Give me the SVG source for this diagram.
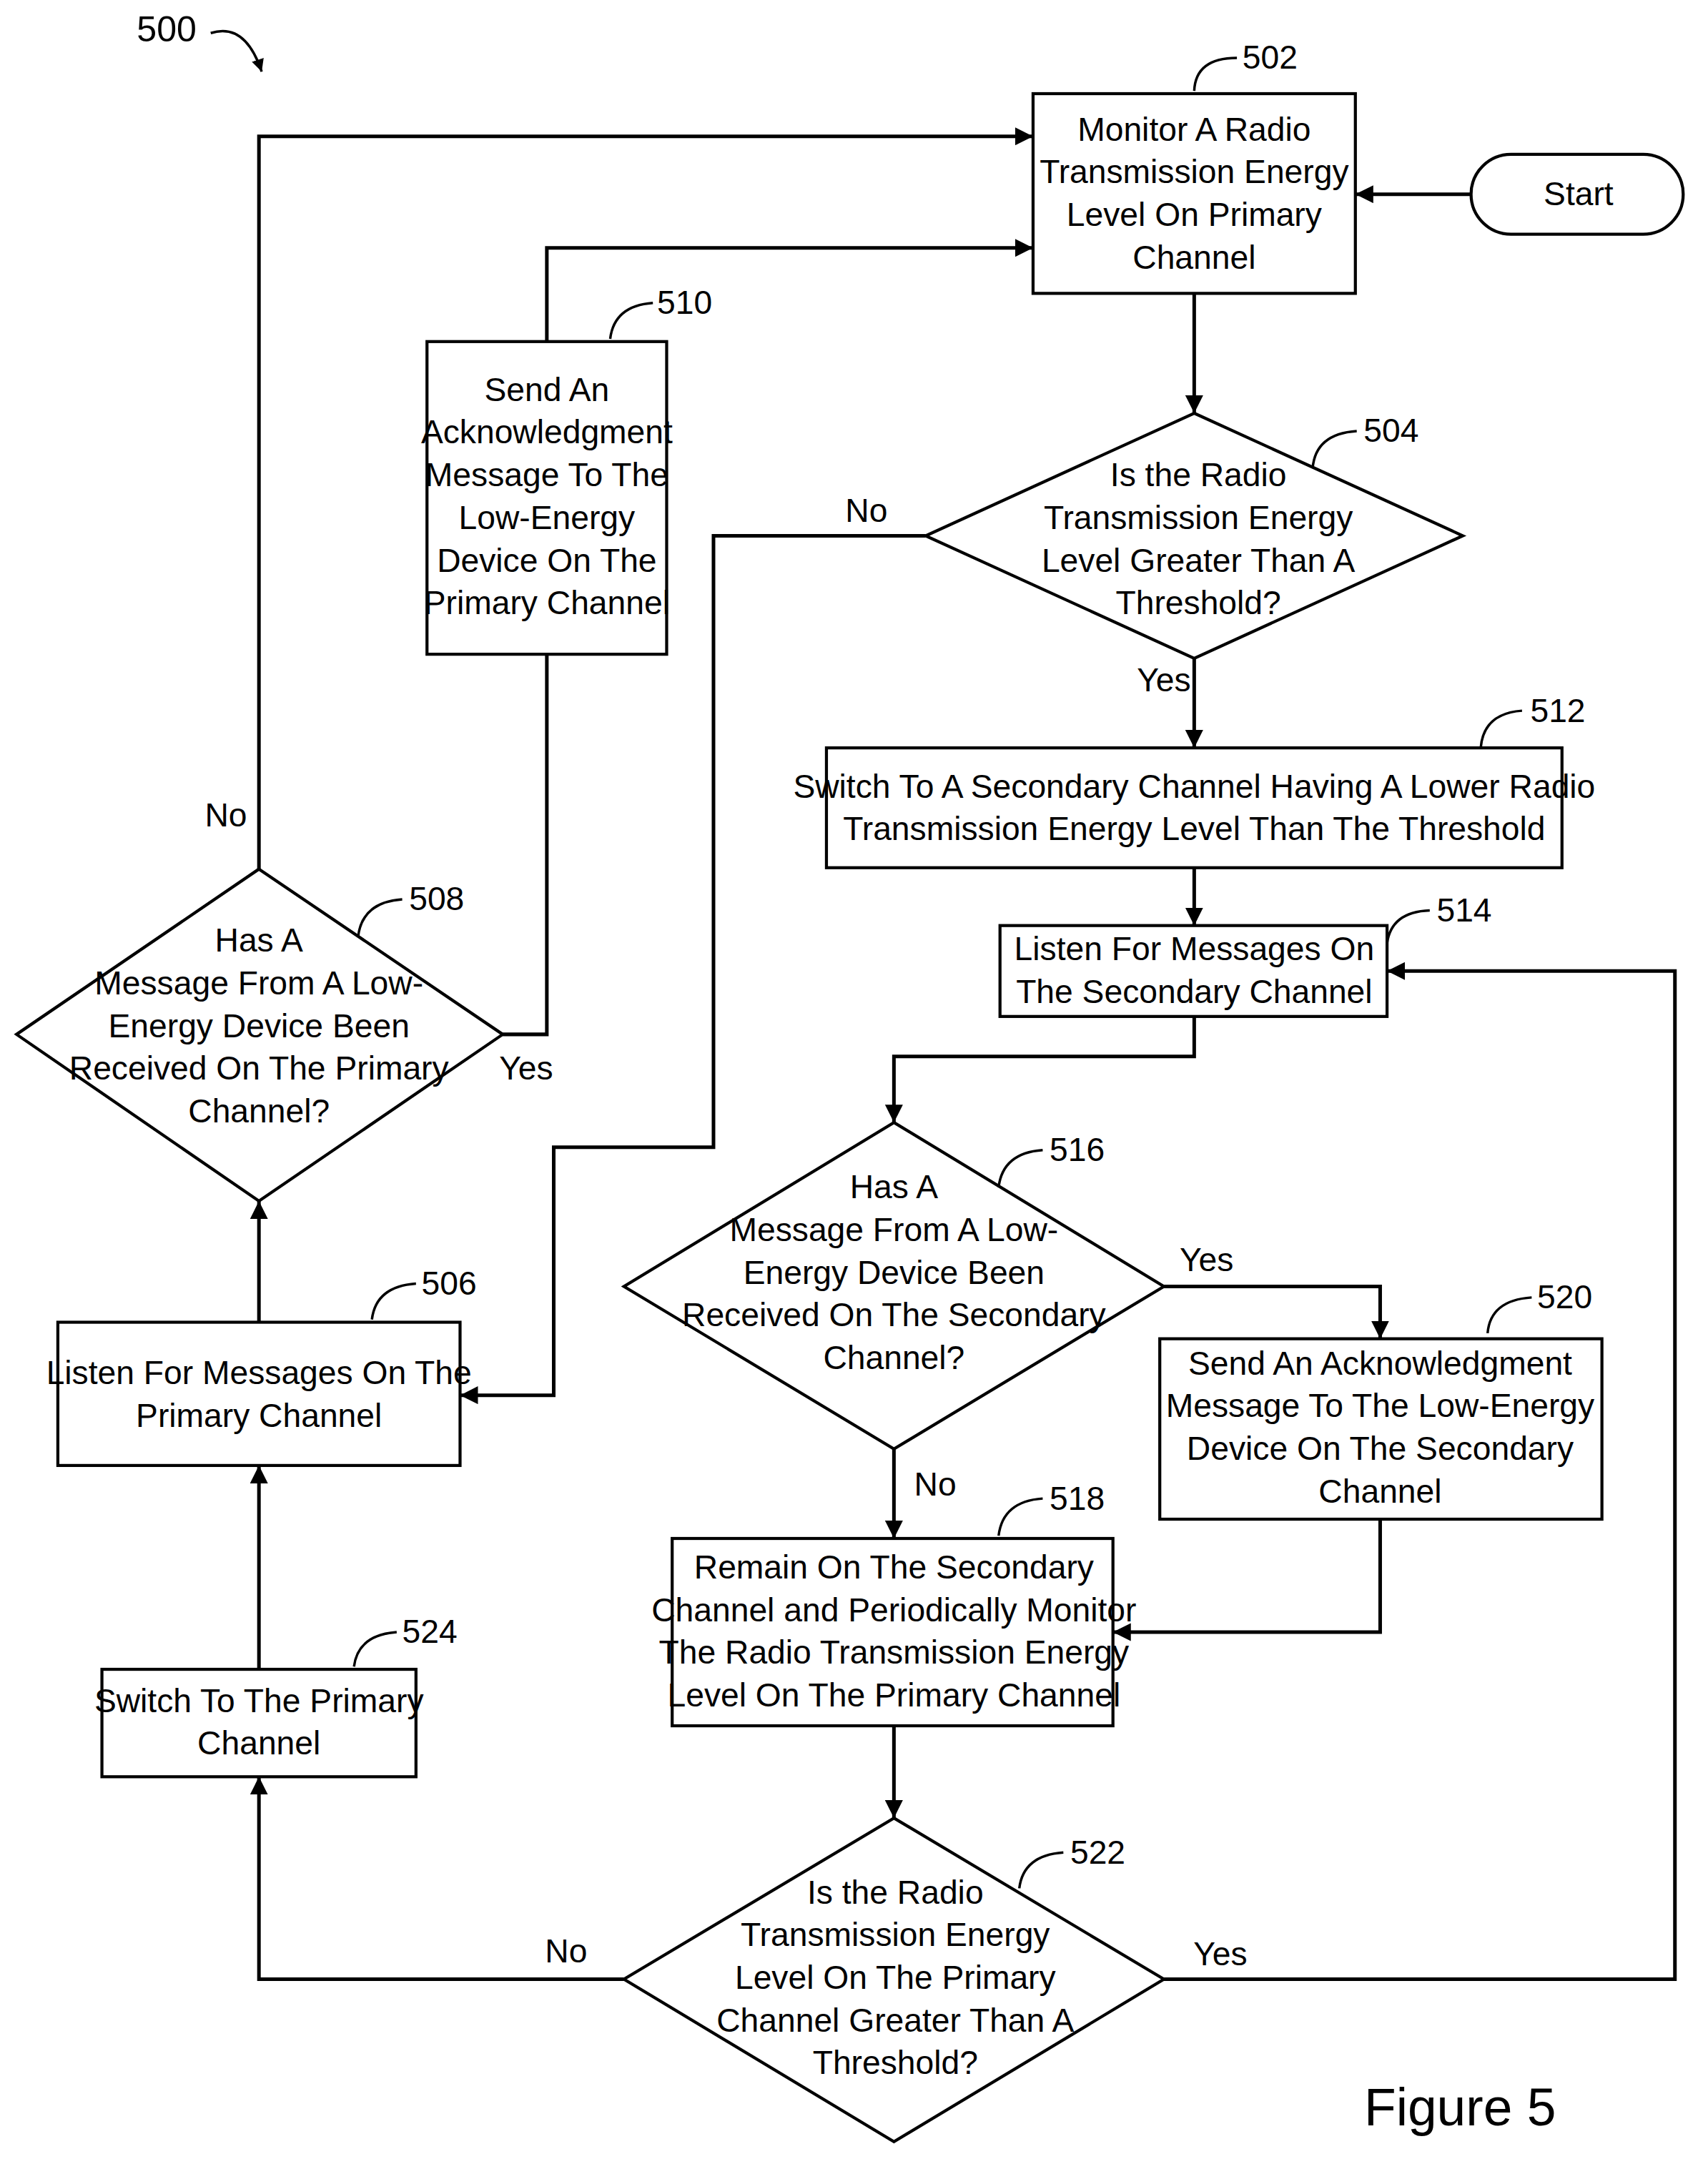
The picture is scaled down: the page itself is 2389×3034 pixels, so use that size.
<svg xmlns="http://www.w3.org/2000/svg" width="2389" height="3034" viewBox="0 0 2389 3034">
<style>
.b{fill:#fff;stroke:#000;stroke-width:2.2}
.c{fill:none;stroke:#000;stroke-width:2.6}
.l{fill:none;stroke:#000;stroke-width:1.8}
text{font-family:"Liberation Sans Narrow","Liberation Sans",Arial,sans-serif;font-size:24px;fill:#000;text-anchor:middle}
.n{text-anchor:start}
</style>
<defs><marker id="a" viewBox="0 0 10 10" refX="10" refY="5" markerWidth="5" markerHeight="5" orient="auto" markerUnits="strokeWidth"><path d="M0,0L10,5L0,10z" fill="#000"/></marker></defs>
<rect width="2389" height="3034" fill="#fff"/>
<g transform="scale(1.9266)">
<g id="connectors">
<path class="c" marker-end="url(#a)" d="M1068,141H984"/>
<path class="c" marker-end="url(#a)" d="M867,213V300"/>
<path class="c" marker-end="url(#a)" d="M867,478V543"/>
<path class="c" marker-end="url(#a)" d="M867,630V672"/>
<path class="c" marker-end="url(#a)" d="M867,738V767H649V815"/>
<path class="c" marker-end="url(#a)" d="M845,934H1002V972"/>
<path class="c" marker-end="url(#a)" d="M1002,1103V1185H808"/>
<path class="c" marker-end="url(#a)" d="M649,1052V1117"/>
<path class="c" marker-end="url(#a)" d="M649,1253V1320"/>
<path class="c" marker-end="url(#a)" d="M845,1437H1216V705H1007"/>
<path class="c" marker-end="url(#a)" d="M453,1437H188V1290"/>
<path class="c" marker-end="url(#a)" d="M188,1212V1064"/>
<path class="c" marker-end="url(#a)" d="M188,960V872"/>
<path class="c" d="M365,751H397V475"/>
<path class="c" marker-end="url(#a)" d="M397,248V180H750"/>
<path class="c" marker-end="url(#a)" d="M188,631V99H750"/>
<path class="c" marker-end="url(#a)" d="M672,389H518V833H402V1013H334"/>
<text x="845" y="502">Yes</text>
<text x="876" y="923">Yes</text>
<text x="679" y="1086">No</text>
<text x="886" y="1427">Yes</text>
<text x="411" y="1425">No</text>
<text x="382" y="784">Yes</text>
<text x="164" y="600">No</text>
<text x="629" y="379">No</text>
</g>
<g id="label500"><text x="121" y="30" style="font-size:26px">500</text><path class="l" marker-end="url(#a)" d="M153,24Q178,16 190,52"/></g>
<g id="n502"><rect class="b" x="750" y="68" width="234" height="145"/><text x="867" y="102">Monitor A Radio</text><text x="867" y="133">Transmission Energy</text><text x="867" y="164">Level On Primary</text><text x="867" y="195">Channel</text><path class="l" d="M867,66Q868,42 898,42"/><text class="n" x="902" y="50">502</text></g>
<g id="start"><rect class="b" x="1068" y="112" width="154" height="58" rx="29"/><text x="1146" y="149">Start</text></g>
<g id="n504"><path class="b" d="M867,300L1062,389L867,478L672,389z"/><text x="870" y="353">Is the Radio</text><text x="870" y="384">Transmission Energy</text><text x="870" y="415">Level Greater Than A</text><text x="870" y="446">Threshold?</text><path class="l" d="M953,340Q955,315 985,313"/><text class="n" x="990" y="321">504</text></g>
<g id="n512"><rect class="b" x="600" y="543" width="534" height="87"/><text x="867" y="579">Switch To A Secondary Channel Having A Lower Radio</text><text x="867" y="610">Transmission Energy Level Than The Threshold</text><path class="l" d="M1075,543Q1077,518 1105,516"/><text class="n" x="1111" y="524">512</text></g>
<g id="n514"><rect class="b" x="726" y="672" width="281" height="66"/><text x="867" y="697">Listen For Messages On</text><text x="867" y="728">The Secondary Channel</text><path class="l" d="M1007,685Q1010,662 1038,661"/><text class="n" x="1043" y="669">514</text></g>
<g id="n516"><path class="b" d="M649,815L845,934L649,1052L453,934z"/><text x="649" y="870">Has A</text><text x="649" y="901">Message From A Low-</text><text x="649" y="932">Energy Device Been</text><text x="649" y="963">Received On The Secondary</text><text x="649" y="994">Channel?</text><path class="l" d="M725,862Q728,837 757,835"/><text class="n" x="762" y="843">516</text></g>
<g id="n520"><rect class="b" x="842" y="972" width="321" height="131"/><text x="1002" y="998">Send An Acknowledgment</text><text x="1002" y="1029">Message To The Low-Energy</text><text x="1002" y="1060">Device On The Secondary</text><text x="1002" y="1091">Channel</text><path class="l" d="M1080,968Q1082,944 1112,942"/><text class="n" x="1116" y="950">520</text></g>
<g id="n518"><rect class="b" x="488" y="1117" width="320" height="136"/><text x="649" y="1146">Remain On The Secondary</text><text x="649" y="1177">Channel and Periodically Monitor</text><text x="649" y="1208">The Radio Transmission Energy</text><text x="649" y="1239">Level On The Primary Channel</text><path class="l" d="M725,1115Q728,1090 757,1088"/><text class="n" x="762" y="1096">518</text></g>
<g id="n522"><path class="b" d="M649,1320L845,1437L649,1555L453,1437z"/><text x="650" y="1382">Is the Radio</text><text x="650" y="1413">Transmission Energy</text><text x="650" y="1444">Level On The Primary</text><text x="650" y="1475">Channel Greater Than A</text><text x="650" y="1506">Threshold?</text><path class="l" d="M740,1371Q743,1347 772,1345"/><text class="n" x="777" y="1353">522</text></g>
<g id="n524"><rect class="b" x="74" y="1212" width="228" height="78"/><text x="188" y="1243">Switch To The Primary</text><text x="188" y="1274">Channel</text><path class="l" d="M257,1210Q260,1187 288,1185"/><text class="n" x="292" y="1193">524</text></g>
<g id="n506"><rect class="b" x="42" y="960" width="292" height="104"/><text x="188" y="1005">Listen For Messages On The</text><text x="188" y="1036">Primary Channel</text><path class="l" d="M270,958Q273,934 302,932"/><text class="n" x="306" y="940">506</text></g>
<g id="n508"><path class="b" d="M188,631L365,751L188,872L12,751z"/><text x="188" y="691">Has A</text><text x="188" y="722">Message From A Low-</text><text x="188" y="753">Energy Device Been</text><text x="188" y="784">Received On The Primary</text><text x="188" y="815">Channel?</text><path class="l" d="M260,680Q263,655 292,653"/><text class="n" x="297" y="661">508</text></g>
<g id="n510"><rect class="b" x="310" y="248" width="174" height="227"/><text x="397" y="291">Send An</text><text x="397" y="322">Acknowledgment</text><text x="397" y="353">Message To The</text><text x="397" y="384">Low-Energy</text><text x="397" y="415">Device On The</text><text x="397" y="446">Primary Channel</text><path class="l" d="M443,246Q446,222 474,220"/><text class="n" x="477" y="228">510</text></g>
<text x="1060" y="1543" style="font-family:'Liberation Sans',Arial,sans-serif;font-size:38px">Figure 5</text>
</g>
</svg>
